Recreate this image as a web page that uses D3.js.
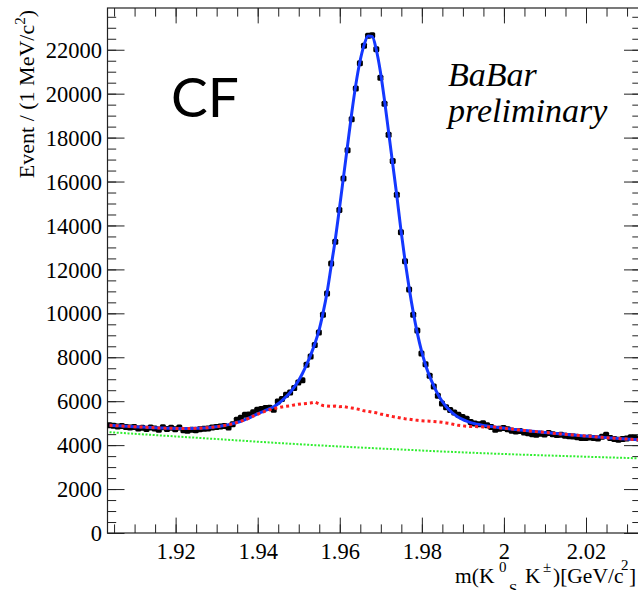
<!DOCTYPE html>
<html><head><meta charset="utf-8">
<script src="https://cdn.jsdelivr.net/npm/d3@7"></script>
<style>html,body{margin:0;padding:0;background:#fff;overflow:hidden}
.serif{font-family:"Liberation Serif","DejaVu Serif",serif !important}</style>
</head><body>
<svg id="c" width="638" height="590"></svg>
<script>
// ---- data (1 MeV bins) ----
const binStart = 1.9034, binWidth = 0.001;
const counts = [
4900,4880,4850,4870,4820,4800,4830,4760,4790,4740,
4800,4760,4700,4810,4740,4790,4720,4800,4680,4650,
4700,4680,4720,4750,4760,4800,4820,4850,4870,4800,
4950,5150,5250,5380,5400,5500,5610,5650,5690,5700,
5610,5990,6100,6290,6400,6600,6850,6950,7660,8030,
8560,9130,9940,10900,12270,13260,14700,16140,17420,18830,
20230,21390,22180,22640,22660,22020,20730,19540,18130,16930,
15400,13690,12370,11080,9940,9220,8170,7680,7160,6670,
6250,5900,5720,5600,5480,5380,5280,5200,5050,4980,
4950,5000,4900,4830,4700,4750,4780,4720,4660,4620,
4640,4580,4540,4500,4470,4520,4480,4550,4500,4460,
4470,4430,4410,4390,4360,4330,4320,4350,4320,4300,
4380,4470,4330,4280,4240,4280,4300,4360,4330,4300];
const fitTotal = [
4900,4890,4880,4870,4860,4850,4840,4830,4820,4810,
4800,4790,4780,4775,4770,4765,4760,4758,4757,4757,
4760,4765,4772,4782,4795,4812,4835,4862,4895,4935,
4980,5030,5085,5160,5240,5330,5415,5500,5580,5660,
5750,5870,6025,6200,6400,6640,6920,7260,7660,8100,
8600,9200,10000,10950,12150,13350,14750,16200,17650,19100,
20400,21450,22200,22620,22600,22000,21000,19700,18250,16800,
15350,13800,12400,11150,10050,9100,8300,7650,7130,6700,
6320,6010,5760,5560,5400,5270,5170,5090,5025,4975,
4935,4900,4870,4845,4820,4795,4775,4752,4730,4710,
4690,4670,4650,4632,4615,4598,4580,4563,4545,4528,
4512,4495,4478,4462,4446,4430,4415,4400,4385,4370,
4356,4342,4328,4315,4302,4290,4278,4266,4255,4245];
const fitBkg = [
4900,4890,4880,4870,4860,4850,4840,4830,4820,4810,
4800,4790,4780,4775,4770,4765,4760,4758,4757,4757,
4760,4765,4772,4782,4795,4812,4835,4862,4895,4930,
4970,5030,5090,5150,5230,5320,5400,5480,5550,5610,
5660,5700,5740,5770,5790,5830,5860,5880,5900,5920,
5960,5880,5800,5780,5760,5780,5750,5760,5720,5690,
5660,5620,5560,5540,5500,5470,5420,5380,5340,5300,
5270,5230,5200,5180,5150,5130,5110,5100,5090,5075,
5060,5040,5010,4980,4940,4900,4880,4860,4850,4850,
4840,4830,4830,4820,4820,4795,4775,4752,4730,4710,
4690,4670,4650,4632,4615,4598,4580,4563,4545,4528,
4512,4495,4478,4462,4446,4430,4415,4400,4385,4370,
4356,4342,4328,4315,4302,4290,4278,4266,4255,4245];
const combMass = [1.9039,1.9139,1.9239,1.9339,1.9439,1.9539,1.9639,1.9739,1.9839,1.9939,2.0039,2.0139,2.0239,2.0329];
const combVal  = [4590,4470,4350,4230,4110,4000,3900,3810,3720,3640,3570,3510,3450,3400];
const yTickValues = [0,2000,4000,6000,8000,10000,12000,14000,16000,18000,20000,22000];
const xTickValues = [1.92,1.94,1.96,1.98,2.00,2.02];
const xTickLabels = ["1.92","1.94","1.96","1.98","2","2.02"];

// ---- layout ----
const L = 107.5, R = 641, T = 8, B = 533;
const svg = d3.select("#c");
const x = d3.scaleLinear().domain([1.9034, 2.0334]).range([L, R]);
const y = d3.scaleLinear().domain([0, 23900]).range([B, T]);
const center = i => binStart + binWidth * (i + 0.5);
const frameColor = "#222";

svg.append("defs").append("clipPath").attr("id","plot")
  .append("rect").attr("x",L).attr("y",T).attr("width",R-L).attr("height",B-T);

// axes
const yMinor = d3.range(0, 23900, 500);
const xMinor = d3.range(1.905, 2.0334, 0.005);
function styleAxis(g){ g.select(".domain").remove(); g.selectAll("line").attr("stroke",frameColor).attr("stroke-width",1); }
svg.append("g").attr("transform",`translate(${L},0)`)
  .call(d3.axisLeft(y).tickValues(yMinor).tickSize(-8.7).tickFormat("")).call(styleAxis);
svg.append("g").attr("transform",`translate(${L},0)`)
  .call(d3.axisLeft(y).tickValues(yTickValues).tickSize(-17).tickPadding(5.5).tickFormat(d3.format("d")))
  .call(styleAxis).attr("font-family",null)
  .call(g=>g.selectAll("text").attr("class","serif").attr("font-size",22.5).attr("fill","#000").attr("dy","0.34em"));
svg.append("g").attr("transform",`translate(${R},0)`)
  .call(d3.axisRight(y).tickValues(yMinor).tickSize(-8.7).tickFormat("")).call(styleAxis);
svg.append("g").attr("transform",`translate(${R},0)`)
  .call(d3.axisRight(y).tickValues(yTickValues).tickSize(-17).tickFormat("")).call(styleAxis);
svg.append("g").attr("transform",`translate(0,${B})`)
  .call(d3.axisBottom(x).tickValues(xMinor).tickSize(-8.6).tickFormat("")).call(styleAxis);
svg.append("g").attr("transform",`translate(0,${B})`)
  .call(d3.axisBottom(x).tickValues(xTickValues).tickSize(-15.4).tickPadding(10).tickFormat((d,i)=>xTickLabels[i]))
  .call(styleAxis).attr("font-family",null)
  .call(g=>g.selectAll("text").attr("class","serif").attr("font-size",22.5).attr("fill","#000"));
svg.append("g").attr("transform",`translate(0,${T})`)
  .call(d3.axisTop(x).tickValues(xMinor).tickSize(-8.6).tickFormat("")).call(styleAxis);
svg.append("g").attr("transform",`translate(0,${T})`)
  .call(d3.axisTop(x).tickValues(xTickValues).tickSize(-15.4).tickFormat("")).call(styleAxis);
svg.append("rect").attr("x",L).attr("y",T).attr("width",R-L).attr("height",B-T)
  .attr("fill","none").attr("stroke",frameColor).attr("stroke-width",1.2);

// plot content
const pg = svg.append("g").attr("clip-path","url(#plot)");
pg.selectAll("rect.pt").data(counts).join("rect").attr("class","pt")
  .attr("x",(d,i)=>x(center(i))-3).attr("y",d=>y(d)-3)
  .attr("width",6).attr("height",6).attr("rx",1.5).attr("fill","#000");
pg.append("path").datum(fitTotal)
  .attr("d",d3.line().x((d,i)=>x(center(i))).y(d=>y(d)).curve(d3.curveMonotoneX))
  .attr("fill","none").attr("stroke","#1438ff").attr("stroke-width",3);
pg.append("path").datum(fitBkg).attr("d",d3.line().x((d,i)=>x(center(i))).y(d=>y(d)))
  .attr("fill","none").attr("stroke","#ff2020").attr("stroke-width",3).attr("stroke-dasharray","3,3");
pg.append("path").datum(combVal).attr("d",d3.line().x((d,i)=>x(combMass[i])).y(d=>y(d)).curve(d3.curveMonotoneX))
  .attr("fill","none").attr("stroke","#30ee30").attr("stroke-width",2).attr("stroke-dasharray","2,1.6");

// titles
const yl = svg.append("text").attr("class","serif").attr("transform","translate(33.5,10) rotate(-90)")
  .attr("text-anchor","end").attr("font-size",22).attr("fill","#000");
yl.append("tspan").text("Event / (1 MeV/c");
yl.append("tspan").attr("font-size",15).attr("dy",-9).text("2");
yl.append("tspan").attr("dy",9).text(")");

const xt = [
  {t:"m(K", x:455, y:583, s:21.5},
  {t:"0", x:499, y:572, s:15},
  {t:"S", x:509, y:594, s:15},
  {t:"K", x:525, y:583, s:21.5},
  {t:"\u00b1", x:543, y:572, s:15},
  {t:")[GeV/c", x:553, y:583, s:21.5},
  {t:"2", x:621, y:570, s:15},
  {t:"]", x:629, y:583, s:21.5}];
svg.selectAll("text.xl").data(xt).join("text").attr("class","xl serif")
  .attr("x",d=>d.x).attr("y",d=>d.y).attr("font-size",d=>d.s)
  .attr("fill","#000").text(d=>d.t);

svg.append("text").attr("x",171).attr("y",117).style("font-family","Lato, 'Open Sans', sans-serif")
  .attr("font-size",55).attr("fill","#000").text("CF");
svg.append("text").attr("class","serif").attr("x",448).attr("y",86).attr("font-style","italic")
  .attr("font-size",34).attr("fill","#000").text("BaBar");
svg.append("text").attr("class","serif").attr("x",448).attr("y",122).attr("font-style","italic")
  .attr("font-size",34).attr("fill","#000").text("preliminary");
</script>
</body></html>
